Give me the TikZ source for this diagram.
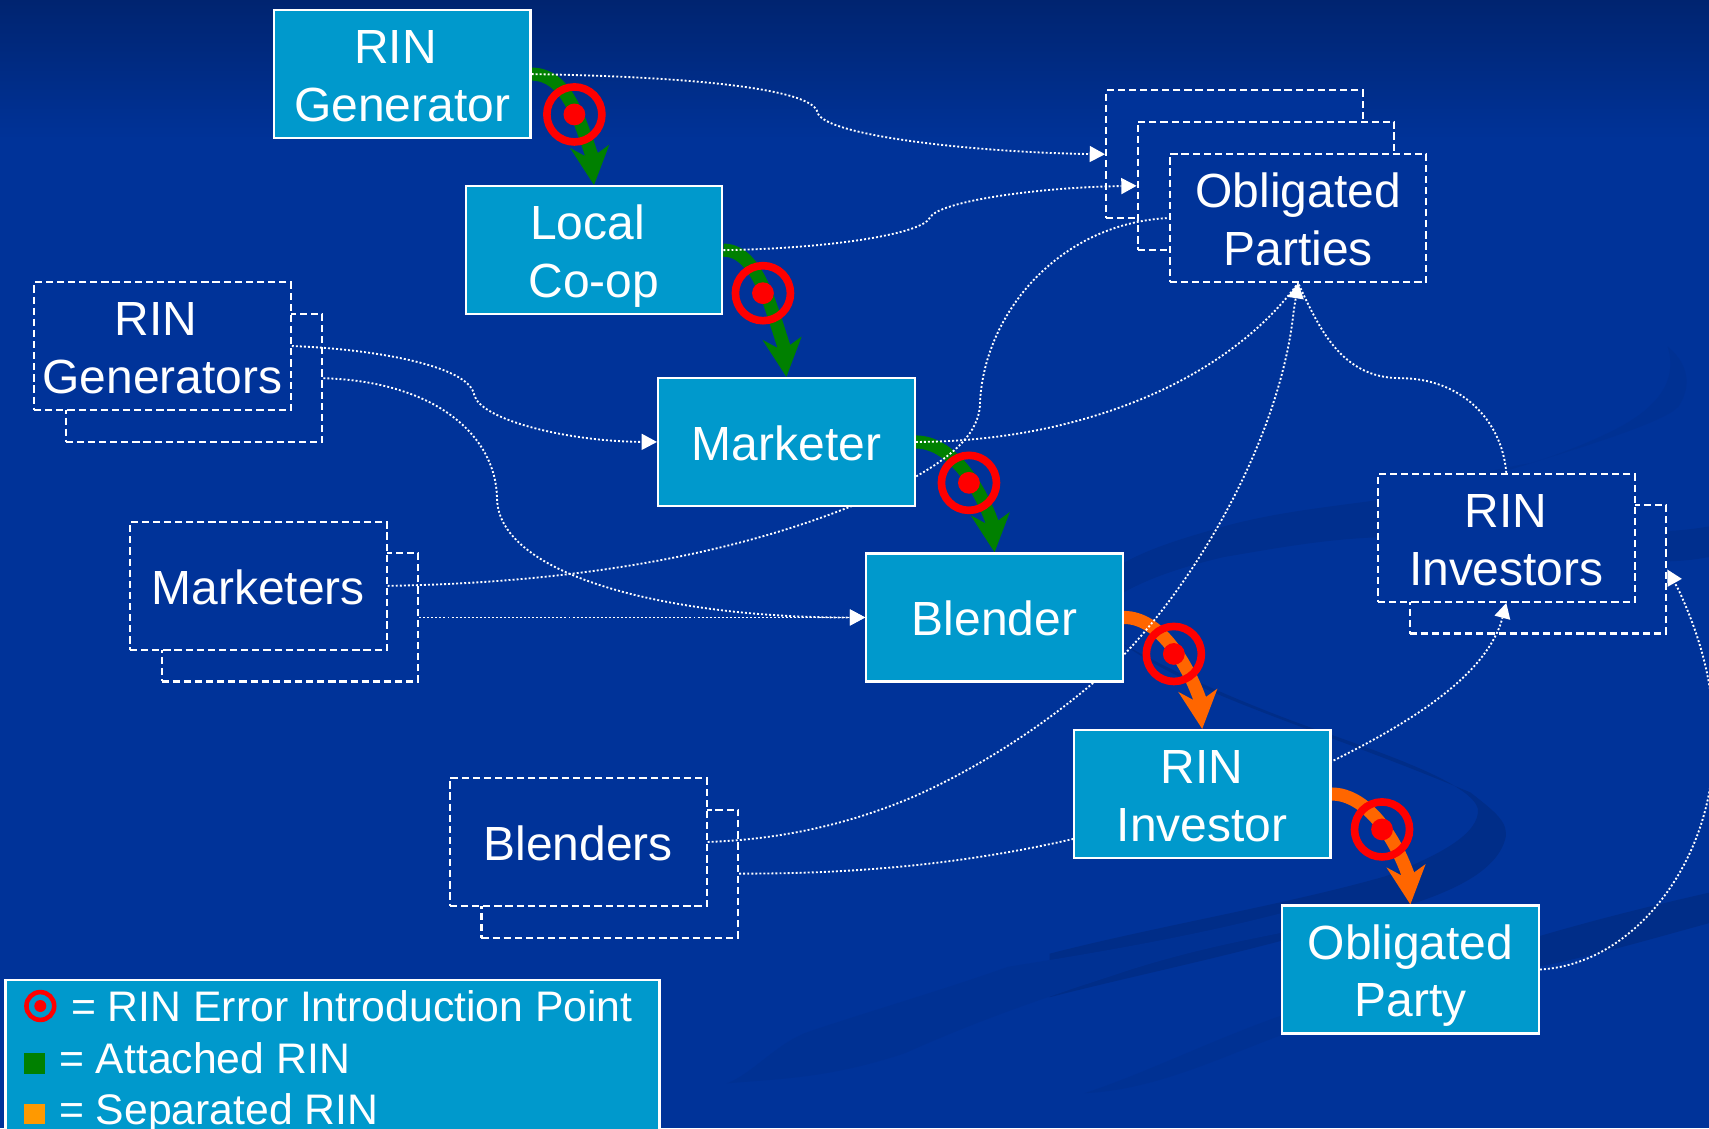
\documentclass[tikz,border=0pt]{standalone}
\usepackage{fontspec}
\setmainfont{Liberation Sans}
\usetikzlibrary{arrows.meta,calc}
\pgfdeclarelayer{sky}\pgfdeclarelayer{backs}\pgfdeclarelayer{thick}\pgfdeclarelayer{conn}
\pgfsetlayers{sky,backs,thick,conn,main}
\definecolor{bgblue}{HTML}{003399}
\definecolor{bgtop}{HTML}{002470}
\definecolor{swoosh}{HTML}{002D88}
\definecolor{swooshb}{HTML}{002F8E}
\definecolor{swooshc}{HTML}{003193}
\definecolor{boxblue}{HTML}{0099CC}
\definecolor{attached}{HTML}{008000}
\definecolor{separatedarrow}{HTML}{FF6600}
\definecolor{separated}{HTML}{FF9900}
\newcommand{\boxstrut}{\rule[-10pt]{0pt}{54pt}}
\tikzset{
  boxtext/.style={text=white,align=center,inner sep=0pt,font=\fontsize{44}{53}\selectfont,
    execute at end node=\boxstrut},
  solidbox/.style={boxtext,draw=white,fill=boxblue,line width=2pt,minimum width=235.5pt,minimum height=117.5pt},
  dashbox/.style={boxtext,draw=white,fill=bgblue,line width=1.9pt,dash pattern=on 6.6pt off 3.6pt,minimum width=235.5pt,minimum height=117.5pt},
  link/.style={draw=white,line width=1.7pt,dash pattern=on 1.8pt off 1.9pt},
  linktip/.style={link,-{Triangle[length=14pt,width=15pt,fill=white,line width=0pt]}},
  errring/.style={circle,draw=red,line width=7pt,minimum size=50.5pt,inner sep=0pt},
  errdot/.style={circle,fill=red,minimum size=20pt,inner sep=0pt},
  legring/.style={circle,draw=red,line width=4.2pt,minimum size=25.5pt,inner sep=0pt},
  legdot/.style={circle,fill=red,minimum size=11pt,inner sep=0pt},
  legtext/.style={text=white,inner sep=0pt,anchor=base west,font=\fontsize{39.2}{47}\selectfont},
  legmark/.style={minimum width=19pt,minimum height=19pt,inner sep=0pt},
}
\newcommand{\thickarrow}[3]{%
  \draw[#3,line width=12pt] (#1.east) .. controls +(32,0) and ($(#2.north)+(-14,-62)$) .. ($(#2.north)+(-1,-24)$);
  \fill[#3] (#2.north) -- +(-22,-34) -- +(-9,-27) -- +(3,-29) -- +(14,-37) -- cycle;
}
\newcommand{\errpoint}[3]{%
  \node[errring] (#1) at (#2,#3) {};
  \node[errdot] (#1d) at (#2,#3) {};
}
\begin{document}
\begin{tikzpicture}[x=1pt,y=-1pt]
\useasboundingbox (0,0) rectangle (1568,1035);
\clip (0,0) rectangle (1568,1035);

\begin{pgfonlayer}{sky}
  \fill[bgblue] (0,0) rectangle (1568,1035);
  \shade[top color=bgtop,bottom color=bgblue] (0,0) rectangle (1568,130);
  % sweeping bands of the slide background
  \fill[swoosh] (963,875) .. controls (1060,850) and (1180,830) .. (1271,804)
     .. controls (1320,785) and (1358,765) .. (1356,742)
     .. controls (1350,720) and (1280,695) .. (1221,674)
     .. controls (1180,660) and (1100,630) .. (1029,590)
     .. controls (1100,640) and (1200,665) .. (1349,727)
     .. controls (1372,745) and (1385,755) .. (1381,770)
     .. controls (1370,810) and (1300,830) .. (1233,847)
     .. controls (1140,875) and (1040,895) .. (963,915) -- cycle;
  \fill[swooshc] (1175,838) .. controls (1090,860) and (1000,875) .. (925,887)
     .. controls (860,910) and (790,930) .. (738,948)
     .. controls (710,960) and (690,985) .. (667,994)
     .. controls (710,990) and (760,990) .. (831,966)
     .. controls (900,935) and (960,915) .. (1018,896)
     .. controls (1080,875) and (1130,865) .. (1175,856) -- cycle;
  \fill[swoosh] (1412,859) .. controls (1470,842) and (1520,830) .. (1568,819)
     -- (1568,847) .. controls (1520,860) and (1470,875) .. (1412,887) -- cycle;
  \fill[swooshb] (1030,517) .. controls (1060,500) and (1100,490) .. (1123,483)
     .. controls (1170,470) and (1220,465) .. (1263,459)
     -- (1400,470) .. controls (1450,480) and (1500,495) .. (1568,483)
     -- (1568,511) .. controls (1500,525) and (1400,500) .. (1263,493)
     .. controls (1210,495) and (1160,505) .. (1123,511)
     .. controls (1085,520) and (1055,530) .. (1030,544) -- cycle;
  \fill[swooshc] (1263,459) .. controls (1320,445) and (1370,430) .. (1404,425)
     .. controls (1470,405) and (1530,385) .. (1540,373)
     .. controls (1555,350) and (1545,330) .. (1530,318)
     .. controls (1540,350) and (1520,375) .. (1480,395)
     .. controls (1420,425) and (1340,445) .. (1263,459) -- cycle;
  \fill[swooshc] (1175,932) .. controls (1110,955) and (1050,985) .. (995,1003)
     .. controls (1060,1000) and (1120,970) .. (1175,950) -- cycle;
\end{pgfonlayer}

% behind-boxes
\begin{pgfonlayer}{backs}
  \node[dashbox] (obB) at (1132.5,141.5) {};
  \node[dashbox] (obM) at (1161.5,170.5) {};
  \node[dashbox] (genB) at (178,347) {};
  \node[dashbox] (markB) at (266,566.5) {};
  \node[dashbox] (blendB) at (559.5,801.5) {};
  \node[dashbox] (invB) at (1411,522.5) {};
\end{pgfonlayer}

% front dashed boxes
\node[dashbox] (obF) at (1191,200) {\boxstrut Obligated\\Parties};
\node[dashbox] (genF) at (149,317.5) {\boxstrut RIN\kern 12pt\\Generators};
\node[dashbox] (markF) at (237,537.5) {Marketers};
\node[dashbox] (blendF) at (530.5,772.5) {Blenders};
\node[dashbox] (invF) at (1382,493.5) {\boxstrut RIN\\Investors};

% solid boxes
\node[solidbox] (gen) at (369,68) {\boxstrut RIN\kern 12pt\\Generator};
\node[solidbox] (coop) at (545,229.5) {\boxstrut Local\kern 12pt\\Co-op};
\node[solidbox] (market) at (721.5,405.5) {Marketer};
\node[solidbox] (blender) at (912.5,566.5) {Blender};
\node[solidbox] (rinv) at (1103,728.5) {\boxstrut RIN\\Investor};
\node[solidbox] (party) at (1294,889.5) {\boxstrut Obligated\\Party};

% thick RIN flow arrows
\begin{pgfonlayer}{thick}
  \thickarrow{gen}{coop}{attached}
  \thickarrow{coop}{market}{attached}
  \thickarrow{market}{blender}{attached}
  \thickarrow{blender}{rinv}{separatedarrow}
  \thickarrow{rinv}{party}{separatedarrow}
\end{pgfonlayer}

% dotted connectors
\begin{pgfonlayer}{conn}
  \coordinate (k1) at (750,103);
  \coordinate (k2) at (853,200);
  \coordinate (k3) at (435,362);
  \coordinate (k4) at (456,457);
  \coordinate (k6a) at (839,438);
  \coordinate (k6b) at (899,373);
  \coordinate (k7) at (1285,347);
  \coordinate (k8a) at (831,734);
  \coordinate (k8b) at (1029,603);
  \coordinate (k8c) at (1187,285);
  \coordinate (k9a) at (1103,735);
  \coordinate (k9b) at (1221,699);
  \coordinate (k9c) at (1377,572);
  \coordinate (k11) at (1572,690);
  \coordinate (k11b) at (1540,541);
  \draw[linktip] (gen.east) .. controls (620,70) and (745,80) .. (k1)
     .. controls (755,125) and (900,140) .. (obB.west);
  \draw[linktip] (coop.east) .. controls (760,228) and (845,215) .. (k2)
     .. controls (860,185) and (950,172) .. (obM.west);
  \draw[linktip] (genF.east) .. controls (340,320) and (430,335) .. (k3)
     .. controls (440,385) and (520,405) .. (market.west);
  \draw[linktip] (genB.east) .. controls (400,350) and (455,400) .. (k4)
     .. controls (457,530) and (620,567) .. (blender.west);
  \draw[linktip] (markB.east) -- (blender.west);
  \draw[link] (markF.east) .. controls (520,535) and (700,510) .. (k6a)
     .. controls (880,415) and (897,395) .. (k6b)
     .. controls (901,290) and (970,205) .. (obF.west);
  \draw[link] (market.east) .. controls (990,405) and (1125,350) .. (obF.south);
  \draw[link] (invF.north) .. controls (1378,385) and (1340,347) .. (k7)
     .. controls (1230,347) and (1210,300) .. (obF.south);
  \draw[linktip] (blendF.east) .. controls (720,770) and (780,755) .. (k8a)
     .. controls (900,705) and (975,655) .. (k8b)
     .. controls (1100,530) and (1175,400) .. (k8c) -- (obF.south);
  \draw[linktip] (blendB.east) .. controls (800,802) and (950,790) .. (k9a)
     .. controls (1145,725) and (1190,715) .. (k9b)
     .. controls (1300,660) and (1360,620) .. (k9c) -- (invF.south);
  \draw[linktip] (party.east) .. controls (1500,885) and (1570,790) .. (k11)
     .. controls (1575,630) and (1558,580) .. (k11b) -- (invB.east);
\end{pgfonlayer}

% error introduction points
\errpoint{e1}{527}{105}
\errpoint{e2}{700}{269}
\errpoint{e3}{889}{443}
\errpoint{e4}{1077}{600}
\errpoint{e5}{1268}{761}

% legend
\node[draw=white,fill=boxblue,line width=2pt,minimum width=600pt,minimum height=170pt,inner sep=0pt,anchor=north west] (legend) at (4,898) {};
\node[legring] (lr) at (37,923) {};
\node[legdot] (ld) at (37,923) {};
\node[legtext] (lt1) at (65,937) {= RIN Error Introduction Point};
\node[legmark,fill=attached] (lg) at (31.5,975.5) {};
\node[legtext] (lt2) at (54,985) {= Attached RIN};
\node[legmark,fill=separated] (lo) at (31.5,1022) {};
\node[legtext] (lt3) at (54,1031.5) {= Separated RIN};
\end{tikzpicture}
\end{document}
